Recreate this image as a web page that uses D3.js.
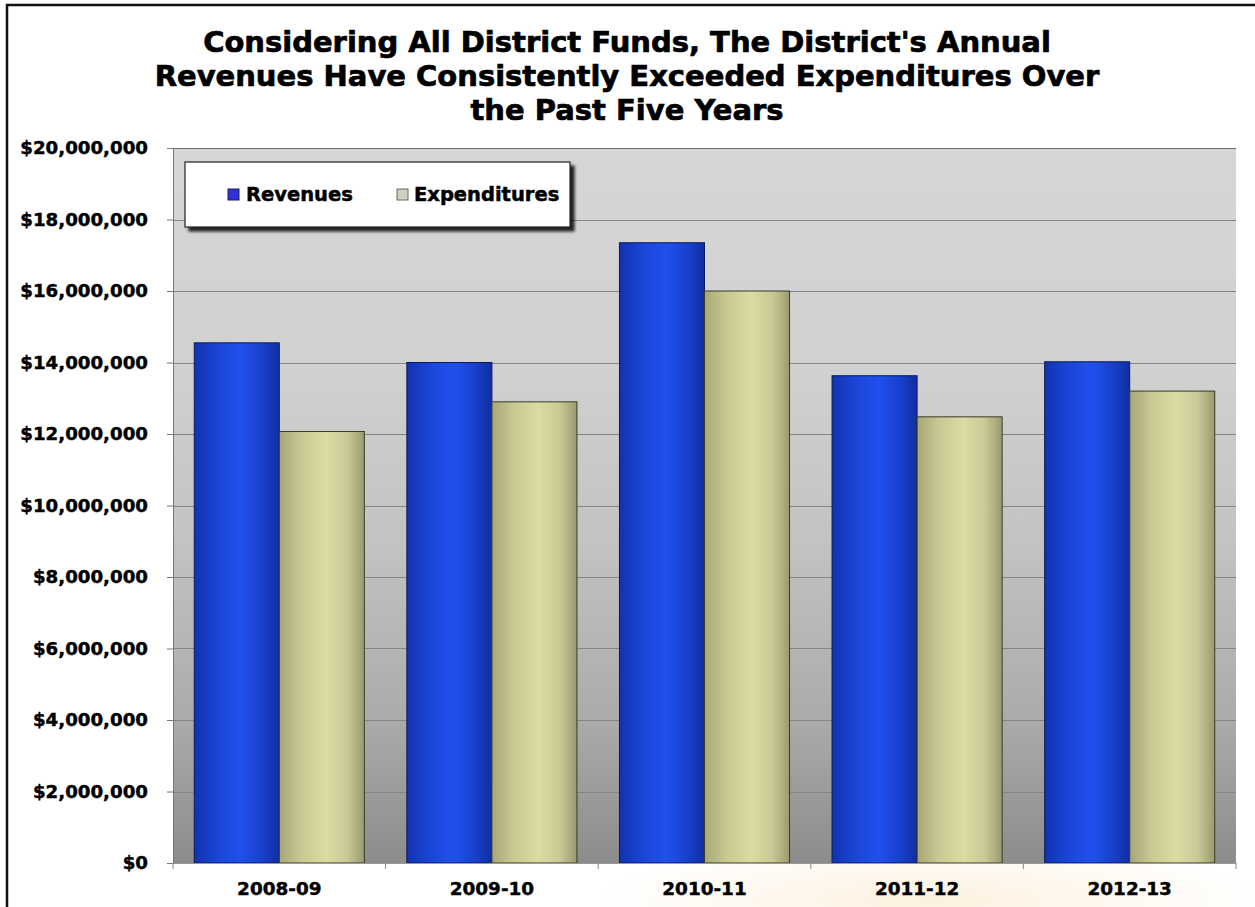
<!DOCTYPE html>
<html>
<head>
<meta charset="utf-8">
<script src="https://cdn.jsdelivr.net/npm/d3@7"></script>
<style>
  html, body { margin: 0; padding: 0; background: #fff; }
  svg { display: block; }
  text { font-family: "DejaVu Sans", Verdana, sans-serif; font-weight: bold; fill: #000; }
</style>
</head>
<body>
<svg id="chart" width="1255" height="907"></svg>
<script>
// Fiscal years and annual totals (dollars)
const years = ["2008-09", "2009-10", "2010-11", "2011-12", "2012-13"];
const seriesNames = ["Revenues", "Expenditures"];
const revenues = [14550000, 14000000, 17350000, 13630000, 14020000];
const expenditures = [12070000, 12900000, 16000000, 12480000, 13200000];
const yTicks = [0, 2000000, 4000000, 6000000, 8000000, 10000000, 12000000, 14000000, 16000000, 18000000, 20000000];
const titleLines = [
  "Considering All District Funds, The District's Annual",
  "Revenues Have Consistently Exceeded Expenditures Over",
  "the Past Five Years"
];

const W = 1255, H = 907;
const plot = { left: 173, right: 1236, top: 148, bottom: 863 };

const svg = d3.select("#chart");
const defs = svg.append("defs");

// Plot backdrop: light gray fading to darker gray toward the floor
const bg = defs.append("linearGradient").attr("id", "bgGrad")
  .attr("x1", 0).attr("y1", 0).attr("x2", 0).attr("y2", 1);
[[0, "#d6d6d6"], [0.3, "#d1d1d1"], [0.55, "#c3c3c3"], [0.8, "#ababab"], [1, "#8c8c8c"]]
  .forEach(([o, c]) => bg.append("stop").attr("offset", o).attr("stop-color", c));

// Soft warm glow behind the category labels
const glow = defs.append("radialGradient").attr("id", "glow");
glow.append("stop").attr("offset", 0).attr("stop-color", "#fbe6c4").attr("stop-opacity", 0.55);
glow.append("stop").attr("offset", 1).attr("stop-color", "#fbe6c4").attr("stop-opacity", 0);

// Cylinder-like shading across each bar
function barGradient(id, stops) {
  const g = defs.append("linearGradient").attr("id", id)
    .attr("x1", 0).attr("y1", 0).attr("x2", 1).attr("y2", 0);
  stops.forEach(([o, c]) => g.append("stop").attr("offset", o).attr("stop-color", c));
}
barGradient("revGrad", [[0, "#1232b0"], [0.25, "#1a44d4"], [0.55, "#2050ec"], [0.8, "#1940cc"], [1, "#112ea0"]]);
barGradient("expGrad", [[0, "#a6a67a"], [0.25, "#c8c892"], [0.55, "#dbdba5"], [0.8, "#c9c995"], [1, "#9a9a70"]]);

const legendShadow = defs.append("filter").attr("id", "legShadow")
  .attr("x", "-5%").attr("y", "-20%").attr("width", "115%").attr("height", "160%");
legendShadow.append("feGaussianBlur").attr("in", "SourceAlpha").attr("stdDeviation", 1.6).attr("result", "b");
legendShadow.append("feOffset").attr("in", "b").attr("dx", 4).attr("dy", 4).attr("result", "o");
legendShadow.append("feComponentTransfer").attr("in", "o").attr("result", "s")
  .append("feFuncA").attr("type", "linear").attr("slope", 0.85);
const lm = legendShadow.append("feMerge");
lm.append("feMergeNode").attr("in", "s");
lm.append("feMergeNode").attr("in", "SourceGraphic");

// Page background and outer frame
svg.append("rect").attr("width", W).attr("height", H).attr("fill", "#fff");
svg.append("ellipse").attr("cx", 930).attr("cy", 900).attr("rx", 330).attr("ry", 60)
  .attr("fill", "url(#glow)");
svg.append("rect").attr("x", 7).attr("y", 5).attr("width", W + 10).attr("height", H + 10)
  .attr("fill", "none").attr("stroke", "#111").attr("stroke-width", 2.5);

// Scales
const x0 = d3.scaleBand().domain(years).range([plot.left, plot.right]).padding(0);
const x1 = d3.scaleBand().domain(seriesNames).range([0, x0.bandwidth()])
  .paddingInner(0).paddingOuter(0.25);
const y = d3.scaleLinear().domain([0, 20000000]).range([plot.bottom, plot.top]);

// Plot area
svg.append("rect")
  .attr("x", plot.left).attr("y", plot.top)
  .attr("width", plot.right - plot.left).attr("height", plot.bottom - plot.top)
  .attr("fill", "url(#bgGrad)");

// Gridlines
svg.append("g").selectAll("line").data(yTicks.filter(d => d > 0)).join("line")
  .attr("x1", plot.left).attr("x2", plot.right)
  .attr("y1", d => Math.round(y(d)) + 0.5).attr("y2", d => Math.round(y(d)) + 0.5)
  .attr("stroke", d => d === 20000000 ? "#6e6e6e" : "#858585").attr("stroke-width", 1.2);

// Bars
const data = years.map((yr, i) => ({
  year: yr,
  values: [
    { key: "Revenues", value: revenues[i], fill: "url(#revGrad)", stroke: "#0a1a5a" },
    { key: "Expenditures", value: expenditures[i], fill: "url(#expGrad)", stroke: "#3a3a28" }
  ]
}));

svg.append("g").selectAll("g").data(data).join("g")
  .attr("transform", d => `translate(${x0(d.year)},0)`)
  .selectAll("rect").data(d => d.values).join("rect")
  .attr("x", d => x1(d.key))
  .attr("y", d => y(d.value))
  .attr("width", x1.bandwidth())
  .attr("height", d => y(0) - y(d.value))
  .attr("fill", d => d.fill)
  .attr("stroke", d => d.stroke)
  .attr("stroke-width", 1);

// Y axis
const yAxis = svg.append("g").attr("transform", `translate(${plot.left},0)`)
  .call(d3.axisLeft(y).tickValues(yTicks).tickSize(6).tickPadding(19)
    .tickFormat(d => "$" + d3.format(",")(d)));
yAxis.select(".domain").attr("stroke", "#777");
yAxis.selectAll(".tick line").attr("stroke", "#777");
yAxis.selectAll("text").style("font-size", "18.2px").attr("fill", "#000")
  .attr("stroke", "#000").attr("stroke-width", 0.45);

// X axis: labels centered in each category, ticks at category boundaries
const xAxis = svg.append("g").attr("transform", `translate(0,${plot.bottom})`)
  .call(d3.axisBottom(x0).tickSize(0).tickPadding(19));
xAxis.select(".domain").attr("stroke", "#999");
xAxis.selectAll("text").style("font-size", "18.4px").attr("fill", "#000")
  .attr("stroke", "#000").attr("stroke-width", 0.45);
const bounds = years.map(d => x0(d)).concat([x0.range()[1]]);
svg.append("g").selectAll("line").data(bounds).join("line")
  .attr("x1", d => d).attr("x2", d => d)
  .attr("y1", plot.bottom).attr("y2", plot.bottom + 6)
  .attr("stroke", "#888");

// Title
svg.append("g").selectAll("text").data(titleLines).join("text")
  .attr("x", 627)
  .attr("y", (d, i) => 52 + i * 34)
  .attr("text-anchor", "middle")
  .style("font-size", "29px")
  .attr("stroke", "#000").attr("stroke-width", 0.7)
  .text(d => d);

// Legend
const leg = svg.append("g").attr("transform", "translate(185,162)");
leg.append("rect").attr("width", 385).attr("height", 65)
  .attr("fill", "#fff").attr("stroke", "#222").attr("stroke-width", 1.2)
  .attr("filter", "url(#legShadow)");
const legItems = [
  { name: seriesNames[0], fill: "#3030d8", stroke: "#1a1a70", mx: 43, tx: 61 },
  { name: seriesNames[1], fill: "#cfcfbf", stroke: "#6a6a60", mx: 212, tx: 229 }
];
legItems.forEach(it => {
  leg.append("rect").attr("x", it.mx).attr("y", 27).attr("width", 11).attr("height", 11)
    .attr("fill", it.fill).attr("stroke", it.stroke).attr("stroke-width", 1);
  leg.append("text").attr("x", it.tx).attr("y", 39).style("font-size", "19.5px")
    .attr("stroke", "#000").attr("stroke-width", 0.5).text(it.name);
});
</script>
</body>
</html>
